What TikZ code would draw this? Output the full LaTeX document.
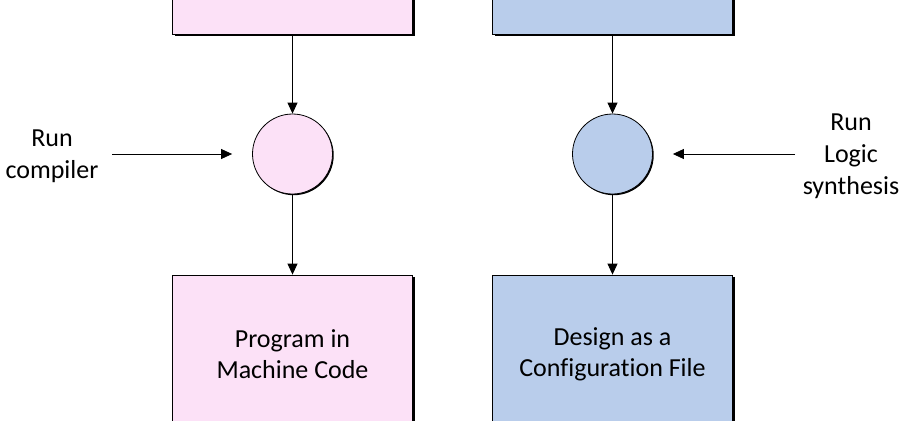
\documentclass[tikz,border=0pt]{standalone}
\usepackage{fontspec}
\setmainfont{Carlito}[RawFeature={-liga;-clig;-dlig}]
\usetikzlibrary{arrows.meta,shadows}
\definecolor{pinkfill}{RGB}{252,225,247}
\definecolor{bluefill}{RGB}{185,205,235}
\begin{document}
\begin{tikzpicture}[x=1pt,y=-1pt,
  box/.style={draw=black, line width=0.8pt, minimum width=240pt, minimum height=158pt,
    inner sep=0pt, align=center, font=\fontsize{26}{31}\selectfont,
    drop shadow={shadow xshift=2.2pt, shadow yshift=-2.2pt, fill=black, opacity=1}},
  proc/.style={circle, draw=black, line width=0.8pt, minimum size=80pt, inner sep=0pt,
    drop shadow={shadow xshift=1.2pt, shadow yshift=-1.2pt, fill=black, opacity=1}},
  lab/.style={align=center, inner sep=0pt, font=\fontsize{26}{32}\selectfont},
  arr/.style={-{Triangle[length=11pt,width=10pt]}, line width=0.8pt}]
\useasboundingbox (0,0) rectangle (904,420);
\clip (0,0) rectangle (904,420);
\node[box, fill=pinkfill] (tl) at (292.5,-45) {};
\node[box, fill=bluefill] (tr) at (612.5,-45) {};
\node[proc, fill=pinkfill] (cl) at (292.5,154) {};
\node[proc, fill=bluefill] (cr) at (612.5,154) {};
\node[box, fill=pinkfill] (bl) at (292.5,354) {Program in\\Machine Code};
\node[box, fill=bluefill] (br) at (612.5,354) {Design as a\\Configuration File};
\node[lab] (ll) at (52,156) {Run\\compiler};
\node[lab] (lr) at (851,156) {Run\\Logic\\synthesis};
\coordinate (sl) at (112,154);
\coordinate (sr) at (795,154);
\draw[arr] (tl.south) -- (cl.north);
\draw[arr] (tr.south) -- (cr.north);
\draw[arr] (cl.south) -- (bl.north);
\draw[arr] (cr.south) -- (br.north);
\draw[arr, shorten >=20pt] (sl) -- (cl.west);
\draw[arr, shorten >=20pt] (sr) -- (cr.east);
\end{tikzpicture}
\end{document}
